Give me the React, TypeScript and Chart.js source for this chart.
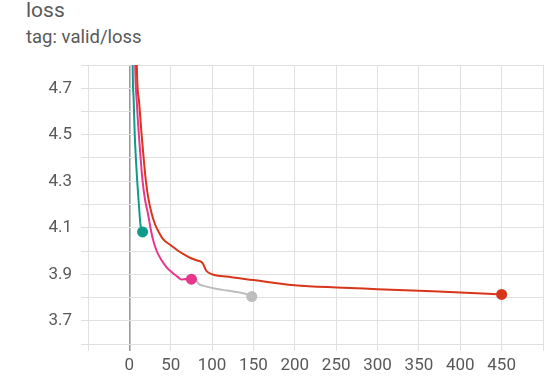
import React, { useEffect, useRef } from 'react';
import { Chart, registerables } from 'chart.js';

Chart.register(...registerables);

// ---- data ----
const tealSteps = [2, 4, 5.2, 6.5, 8, 9.5, 11.5, 13.5, 16];
const tealLoss = [6.0, 4.8, 4.65, 4.5, 4.39, 4.3, 4.2, 4.11, 4.082];

const pinkSteps = [3, 7, 9, 11.5, 13.8, 16, 19, 22.5, 25.5, 28.5, 33, 39, 45, 52.5, 58, 63, 68, 71, 75];
const pinkLoss = [6.0, 4.8, 4.64, 4.5, 4.39, 4.3, 4.22, 4.16, 4.1, 4.05, 4.0, 3.96, 3.93, 3.905, 3.89, 3.877, 3.88, 3.872, 3.879];

const graySteps = [75, 79, 81, 84, 90, 103, 118, 133, 141, 148];
const grayLoss = [3.885, 3.893, 3.875, 3.858, 3.85, 3.839, 3.83, 3.822, 3.815, 3.804];

const redSteps = [4, 9, 11.8, 14.8, 17.5, 20, 23, 27, 31, 35, 41, 50, 58, 66, 74, 81, 87, 89, 93, 100, 120, 150, 169, 200, 250, 300, 350, 400, 450];
const redLoss = [6.5, 4.8, 4.64, 4.5, 4.39, 4.3, 4.225, 4.16, 4.115, 4.085, 4.05, 4.025, 4.003, 3.985, 3.97, 3.96, 3.953, 3.945, 3.915, 3.9, 3.889, 3.875, 3.866, 3.853, 3.843, 3.836, 3.829, 3.822, 3.813];

const xTickLabels = ['0', '50', '100', '150', '200', '250', '300', '350', '400', '450'];
const yTickLabels = ['3.7', '3.9', '4.1', '4.3', '4.5', '4.7'];

const toPoints = (xs: number[], ys: number[]) => xs.map((x, i) => ({ x, y: ys[i] }));

function makeSet(label: string, xs: number[], ys: number[], color: string) {
  const last = xs.length - 1;
  return {
    label,
    data: toPoints(xs, ys),
    borderColor: color,
    backgroundColor: color,
    borderWidth: 2,
    pointRadius: (ctx: any) => (ctx.dataIndex === last ? 5.5 : 0),
    pointHoverRadius: 0,
    pointBorderWidth: 0,
    cubicInterpolationMode: 'monotone' as const,
    fill: false,
  };
}

export default function App() {
  const ref = useRef<HTMLCanvasElement | null>(null);

  useEffect(() => {
    if (!ref.current) return;
    const font = { family: 'Roboto, Arial, sans-serif', size: 17 };
    const chart = new Chart(ref.current, {
      type: 'line',
      data: {
        datasets: [
          makeSet('red', redSteps, redLoss, '#d7361a'),
          makeSet('pink', pinkSteps, pinkLoss, '#e8368c'),
          makeSet('teal', tealSteps, tealLoss, '#109a8a'),
          makeSet('gray', graySteps, grayLoss, '#bdbdbd'),
        ],
      },
      options: {
        animation: false,
        responsive: false,
        maintainAspectRatio: false,
        events: [],
        layout: { padding: { top: 65, right: 9, left: 0, bottom: 0 } },
        plugins: { legend: { display: false }, tooltip: { enabled: false } },
        scales: {
          x: {
            type: 'linear',
            min: -50,
            max: 500,
            border: { display: false },
            grid: {
              color: (ctx: any) => (ctx.tick && ctx.tick.value === 0 ? '#9a9a9a' : '#e0e0e0'),
              lineWidth: (ctx: any) => (ctx.tick && ctx.tick.value === 0 ? 1.6 : 1),
              tickLength: 7,
              drawTicks: true,
            },
            ticks: {
              stepSize: 50,
              autoSkip: false,
              maxRotation: 0,
              padding: 5,
              color: '#595959',
              font,
              callback: (v: any) => {
                const s = String(Math.round(Number(v)));
                return xTickLabels.includes(s) ? s : '';
              },
            },
            afterFit: (s: any) => {
              s.height = 43;
            },
          },
          y: {
            type: 'linear',
            min: 3.6,
            max: 4.8,
            border: { display: false },
            grid: { color: '#e0e0e0', lineWidth: 1, tickLength: 7, drawTicks: true },
            ticks: {
              stepSize: 0.1,
              autoSkip: false,
              padding: 9,
              color: '#595959',
              font,
              callback: (v: any) => {
                const s = (Math.round(Number(v) * 10) / 10).toFixed(1);
                return yTickLabels.includes(s) ? s : '';
              },
            },
            afterFit: (s: any) => {
              s.width = 88;
            },
          },
        },
      },
    });
    return () => chart.destroy();
  }, []);

  return (
    <div style={{ position: 'fixed', left: 0, top: 0, width: 552, height: 387, background: '#fff', overflow: 'hidden' }}>
      <div style={{ position: 'absolute', left: 26, top: 0, fontFamily: 'Roboto, Arial, sans-serif', fontSize: 21, lineHeight: 1, color: '#595959', whiteSpace: 'nowrap' }}>
        loss
      </div>
      <div style={{ position: 'absolute', left: 26, top: 28, fontFamily: 'Roboto, Arial, sans-serif', fontSize: 18.5, lineHeight: 1, color: '#595959', whiteSpace: 'nowrap' }}>
        tag: valid/loss
      </div>
      <canvas ref={ref} width={552} height={387} style={{ position: 'absolute', left: 0, top: 0, width: 552, height: 387 }} />
    </div>
  );
}
